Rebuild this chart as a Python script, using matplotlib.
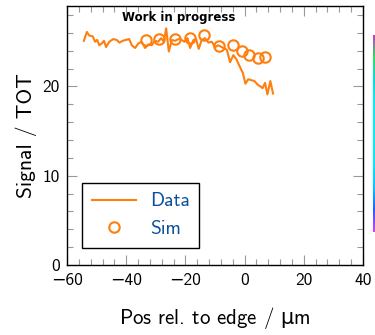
import matplotlib
matplotlib.use("Agg")
import matplotlib.pyplot as plt
import numpy as np
from matplotlib.ticker import MultipleLocator
from matplotlib.colors import LinearSegmentedColormap

plt.rcParams['font.family'] = ['cmss10', 'DejaVu Sans']
plt.rcParams['axes.formatter.use_mathtext'] = False
plt.rcParams['axes.unicode_minus'] = True
plt.rcParams['mathtext.fontset'] = 'dejavusans'

# Data series
data_x = [-54.3, -53.3, -52.5, -51.3, -50.5, -49.8, -49.1, -48.3, -47.5, -46.8,
          -45.7, -44.4, -43.2, -42.3, -41.2, -40.1, -39.0, -38.1, -37.0, -35.9,
          -34.8, -33.6, -32.5, -31.4, -30.3, -29.2, -28.2, -27.3, -26.5, -25.6,
          -24.6, -23.5, -22.4, -21.3, -20.3, -19.3, -18.4, -17.3, -16.4, -15.5,
          -14.5, -13.4, -12.2, -11.1, -10.0, -8.9, -7.2, -6.0, -4.9, -3.8,
          -2.7, -1.6, -0.6, 0.3, 1.2, 2.2, 3.3, 4.4, 5.3, 6.1,
          6.9, 7.7, 8.7, 9.6]
data_y = [25.1, 26.1, 25.7, 25.6, 25.0, 25.2, 24.6, 24.8, 25.1, 24.4,
          25.0, 25.3, 25.2, 24.9, 25.1, 25.2, 25.3, 24.6, 24.3, 24.8,
          25.0, 24.3, 24.7, 24.6, 25.1, 25.0, 25.4, 25.0, 26.5, 23.9,
          25.2, 25.1, 25.3, 25.2, 25.0, 25.4, 24.3, 25.2, 25.3, 24.2,
          25.2, 25.4, 24.9, 25.0, 24.4, 24.6, 24.3, 24.1, 22.7, 23.5,
          23.0, 22.2, 21.5, 20.3, 20.8, 20.7, 20.6, 20.2, 20.0, 19.8,
          20.4, 19.1, 20.6, 19.2]

sim_x = [-33.3, -28.8, -23.5, -18.4, -13.7, -8.5, -3.8, -1.0, 1.6, 4.4, 6.9]
sim_y = [25.2, 25.3, 25.3, 25.4, 25.7, 24.5, 24.6, 24.0, 23.5, 23.2, 23.3]

orange = '#ff7f0e'
blue = '#0b4f9e'

fig = plt.figure(figsize=(3.75, 3.35), dpi=100)
ax = fig.add_axes([67/375, 70/335, 296/375, 259/335])

ax.plot(data_x, data_y, color=orange, lw=1.5, label='Data')
ax.plot(sim_x, sim_y, ls='none', marker='o', ms=7.5, mfc='none', mec=orange,
        mew=1.5, label='Sim')

ax.set_xlim(-60, 40)
ax.set_ylim(0, 29)
ax.xaxis.set_major_locator(MultipleLocator(20))
ax.xaxis.set_minor_locator(MultipleLocator(4))
ax.yaxis.set_major_locator(MultipleLocator(10))
ax.yaxis.set_minor_locator(MultipleLocator(2))
ax.tick_params(which='both', direction='in', top=True, right=True,
               labelsize=12.5)
ax.tick_params(axis='x', pad=6)
ax.tick_params(axis='y', pad=5)
ax.tick_params(which='major', length=7, width=0.8, color='#999999')
ax.tick_params(which='minor', length=4, width=0.8, color='#999999')
for s in ax.spines.values():
    s.set_linewidth(1.0)

ax.set_xlabel(r'Pos rel. to edge / $\mathrm{\mu}$m', fontsize=15, labelpad=12)
ax.set_ylabel('Signal / TOT', fontsize=15.5, labelpad=4)

leg = ax.legend(loc='lower left', bbox_to_anchor=(0.05, 0.066), fontsize=14,
                fancybox=False, edgecolor='black', framealpha=1,
                borderaxespad=0, handlelength=2.3, borderpad=0.5,
                handletextpad=0.7, labelspacing=0.5)
leg.get_frame().set_linewidth(1.0)
for t in leg.get_texts():
    t.set_color(blue)

ax.text(0.186, 0.955, 'Work in progress', transform=ax.transAxes,
        fontsize=8.5, fontweight='bold', family=['DejaVu Sans'],
        va='center', ha='left')

# cropped colour bar remnant at right edge
cmap = LinearSegmentedColormap.from_list(
    'strip', ['#d040ff', '#2060ff', '#00c8ff', '#00e8ff', '#00f0ff',
              '#00f0ff', '#00f0ff', '#00e0e0', '#30e060', '#c040c0'])
cax = fig.add_axes([373/375, 103/335, 2/375, 197/335])
grad = np.linspace(0, 1, 200).reshape(-1, 1)
cax.imshow(grad, aspect='auto', cmap=cmap, origin='lower')
cax.set_axis_off()

fig.savefig('out.png', dpi=100)
